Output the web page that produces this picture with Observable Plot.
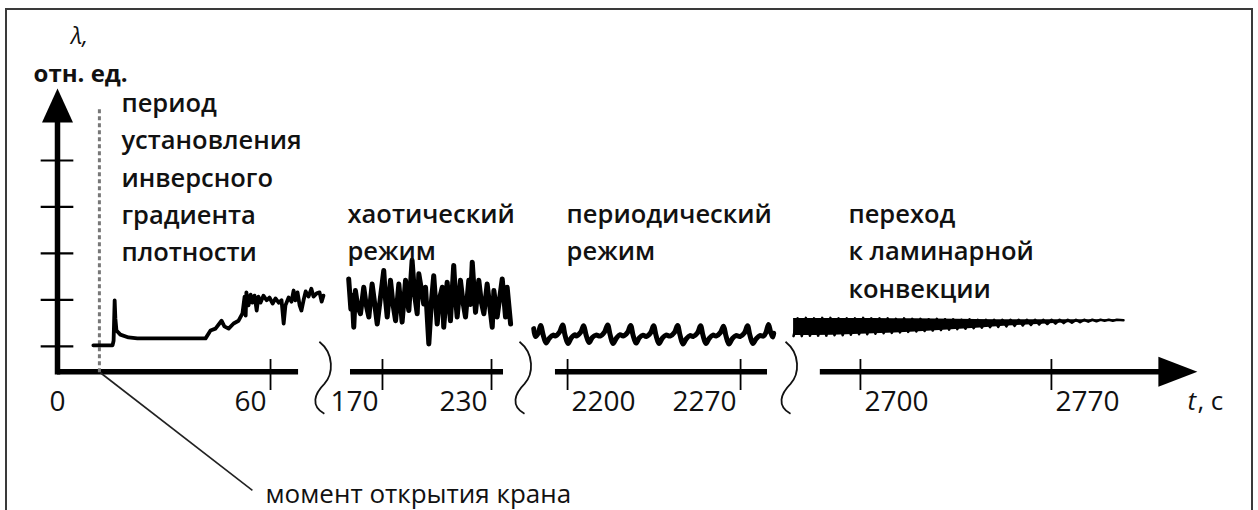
<!DOCTYPE html>
<html><head><meta charset="utf-8">
<script src="https://cdn.jsdelivr.net/npm/d3@7"></script>
<script src="https://cdn.jsdelivr.net/npm/@observablehq/plot@0.6"></script>
<style>
html,body{margin:0;padding:0;background:#fff;}
#wrap{position:relative;width:1258px;height:510px;overflow:hidden;}
#frame{position:absolute;left:5px;top:8px;width:1244px;height:520px;border:2px solid #3a3a3a;pointer-events:none;}
</style></head><body><div id="wrap"><div id="frame"></div></div>
<script>
// ---- data (time t in s, λ in relative units) ----
const transient = [[10.1,1.02],[15.5,1.02],[15.8,1.12],[16.1,1.99],[16.3,1.60],[16.6,1.34],[17.7,1.25],[20.0,1.19],[22.5,1.17],[41.7,1.17],[43.1,1.34],[44.5,1.38],[46.2,1.55],[47.0,1.43],[48.2,1.38],[49.6,1.49],[51.0,1.55],[52.1,1.71],[52.7,2.07],[53.0,1.66],[53.2,2.16],[53.8,1.88],[54.4,2.11],[54.9,1.94],[55.5,2.09],[56.1,1.77],[56.6,2.07],[57.2,1.94],[58.0,2.09],[58.9,1.99],[59.7,2.05],[60.6,1.92],[61.4,2.03],[62.3,1.94],[63.1,1.99],[63.7,1.49],[64.2,1.88],[65.1,2.05],[65.9,1.96],[66.5,2.20],[67.0,1.99],[67.6,2.16],[68.2,1.88],[68.7,1.77],[69.3,1.99],[69.9,2.18],[70.7,2.07],[71.5,2.24],[72.1,2.07],[73.0,2.14],[73.8,2.16],[74.4,1.96],[74.9,2.09]];
const chaotic = [[151.4,2.45],[152.6,1.80],[153.3,2.10],[154.2,1.41],[155.1,2.20],[156.4,1.85],[157.9,1.70],[159.7,2.27],[161.0,1.90],[162.5,1.63],[164.3,2.34],[165.6,1.95],[167.1,1.48],[170.7,2.63],[171.7,2.00],[172.6,1.63],[174.4,2.42],[175.8,1.90],[177.2,1.55],[179.0,2.34],[180.8,1.52],[182.7,2.42],[183.6,2.00],[184.5,1.77],[186.3,2.85],[187.7,2.10],[189.1,1.70],[190.0,2.56],[192.7,1.91],[193.7,2.27],[195.5,1.05],[196.9,1.95],[198.2,2.52],[200.1,1.48],[201.5,2.05],[202.9,2.27],[203.7,1.41],[205.6,2.38],[207.4,1.55],[209.2,2.74],[210.2,2.05],[211.1,1.63],[212.9,2.42],[214.3,1.95],[215.7,1.63],[217.5,2.42],[218.4,1.90],[219.4,2.81],[221.2,1.73],[223.0,2.42],[224.4,1.95],[225.8,1.70],[227.6,2.34],[230.4,1.41],[231.3,2.20],[233.1,1.63],[235.9,2.45],[237.7,1.63],[238.6,2.27],[240.5,1.48]];
const periodic = [[2186.3,1.38],[2187.0,1.21],[2188.2,1.29],[2189.1,1.45],[2190.1,1.25],[2191.3,1.07],[2192.6,1.17],[2194.1,1.24],
[2195.0,1.22],[2196.8,1.31],[2198.0,1.46],[2199.0,1.23],[2200.2,1.06],[2201.5,1.18],[2203.0,1.25],
[2203.5,1.22],[2205.3,1.30],[2206.5,1.44],[2207.5,1.24],[2208.7,1.08],[2210.0,1.19],[2211.5,1.24],[2213.2,1.22],
[2215.0,1.31],[2216.2,1.46],[2217.2,1.25],[2218.4,1.06],[2219.7,1.17],[2221.2,1.25],[2222.5,1.22],
[2224.3,1.30],[2225.5,1.45],[2226.5,1.24],[2227.7,1.07],[2229.0,1.18],[2230.5,1.24],[2231.8,1.21],
[2233.6,1.29],[2234.8,1.44],[2235.8,1.23],[2237.0,1.06],[2238.3,1.17],[2239.8,1.24],[2241.5,1.22],
[2243.3,1.30],[2244.5,1.45],[2245.5,1.24],[2246.7,1.05],[2248.0,1.16],[2249.5,1.23],[2250.8,1.21],
[2252.6,1.29],[2253.8,1.44],[2254.8,1.23],[2256.0,1.06],[2257.3,1.17],[2258.8,1.24],[2260.1,1.22],
[2261.9,1.30],[2263.1,1.43],[2264.1,1.22],[2265.3,1.05],[2266.6,1.16],[2268.1,1.23],[2269.8,1.21],
[2271.6,1.29],[2272.8,1.44],[2273.8,1.23],[2275.0,1.06],[2276.3,1.16],[2277.8,1.23],[2279.3,1.22],
[2280.3,1.30],[2281.3,1.47],[2282.2,1.30],[2283.0,1.20],[2283.4,1.28]];
const laminar = [[2675.5,1.22],[2677,1.60],[2678.5,1.22],[2680,1.61],[2681.5,1.23],[2683,1.60],[2684.5,1.23],[2686,1.61],[2687.5,1.23],[2689,1.61],[2690.5,1.24],[2692,1.60],[2693.5,1.24],[2695,1.60],[2696.5,1.25],[2698,1.60],[2699.5,1.26],[2701,1.61],[2702.5,1.26],[2704,1.60],[2705.5,1.27],[2707,1.60],[2708.5,1.28],[2710,1.60],[2711.5,1.29],[2713,1.59],[2714.5,1.30],[2716,1.60],[2717.5,1.31],[2719,1.59],[2720.5,1.32],[2722,1.59],[2723.5,1.33],[2725,1.58],[2726.5,1.34],[2728,1.59],[2729.5,1.35],[2731,1.58],[2732.5,1.36],[2734,1.58],[2735.5,1.37],[2737,1.57],[2738.5,1.38],[2740,1.58],[2741.5,1.39],[2743,1.57],[2744.5,1.40],[2746,1.57],[2747.5,1.41],[2749,1.57],[2750.5,1.42],[2752,1.57],[2753.5,1.43],[2755,1.57],[2756.5,1.44],[2758,1.57],[2759.5,1.45],[2761,1.57],[2762.5,1.46],[2764,1.57],[2765.5,1.47],[2767,1.57],[2768.5,1.48],[2770,1.57],[2771.5,1.49],[2773,1.57],[2774.5,1.50],[2776,1.57],[2777.5,1.51],[2779,1.57],[2780.5,1.52],[2782,1.57],[2783.5,1.53],[2785,1.57],[2786.5,1.54],[2788,1.57],[2789.5,1.55],[2791,1.57],[2792.5,1.55],[2794,1.57],[2796.4,1.56]];
// envelope of the laminar-transition band (lower, upper)
const laminarBand = [[2675.5,1.23,1.60],[2690,1.24,1.60],[2705,1.27,1.60],[2720,1.31,1.59],[2735,1.36,1.58],[2750,1.42,1.57],[2765,1.47,1.57],[2780,1.52,1.57],[2796.4,1.55,1.57]];

const xTickValues = [60, 170, 230, 2200, 2270, 2700, 2770];
const labelsAfterTick = [2200, 2700, 2770];
const yTickValues = [1, 2, 3, 4, 5];
const axisPieces = [[0, 67.9], [152.4, 236.6], [2195.1, 2280.9], [2685.3, 2815]];
const breakTimes = [74.6, 247.05, 2289.4];
const tapOpenTime = 11.8;
const regimeLabels = ["период\nустановления\nинверсного\nградиента\nплотности", "хаотический\nрежим", "периодический\nрежим", "переход\nк ламинарной\nконвекции"];
const yLabel = ["λ,", "отн. ед."];
const xLabel = ["t", ", с"];
const calloutText = "момент открытия крана";

// ---- drawing ----
const FONT = "Open Sans, DejaVu Sans, sans-serif";
const AXIS_Y = 0.45;
const arrowUp = {draw(c){c.moveTo(0,0);c.lineTo(15.5,34);c.lineTo(-15.5,34);c.closePath();}};
const arrowRight = {draw(c){c.moveTo(0,0);c.lineTo(-39,-15);c.lineTo(-39,15);c.closePath();}};
const wave = {draw(c){c.moveTo(-3,-30);c.bezierCurveTo(12,-18,11,2,2,12);c.bezierCurveTo(-8,22,-12,34,2,42);}};

const labelStyle = {fontFamily: FONT, fontSize: 25.5, fontWeight: 600, textAnchor: "start", lineAnchor: "top", lineHeight: 1.46, fill: "#111"};
const numStyle = {fontFamily: FONT, fontSize: 28, fontWeight: 400, fill: "#111", y: -0.19};

const chart = Plot.plot({
  width: 1258, height: 510,
  marginLeft: 0, marginRight: 0, marginTop: 0, marginBottom: 0,
  x: {type: "linear", domain: [0, 78.3, 146.9, 249.8, 2185.0, 2290.2, 2675.1, 2839.3], range: [57, 335, 340, 527, 530, 790, 792, 1240], axis: null},
  y: {type: "linear", domain: [0.5, 6.55], range: [369, 88], axis: null},
  style: {background: "transparent", overflow: "visible"},
  marks: [
    // y axis
    Plot.ruleX([0], {y1: 0.38, y2: 6.0, strokeWidth: 5.5, stroke: "#000"}),
    Plot.ruleY(yTickValues, {x1: -4.6, x2: 4.6, strokeWidth: 2.2, stroke: "#000"}),
    Plot.dot([[0, 6.55]], {x: "0", y: "1", symbol: arrowUp, fill: "#000", stroke: "none"}),
    // broken time axis
    Plot.ruleY(axisPieces, {x1: "0", x2: "1", y: AXIS_Y, strokeWidth: 5.5, stroke: "#000"}),
    Plot.dot([[2823.5, AXIS_Y]], {x: "0", y: "1", symbol: arrowRight, fill: "#000", stroke: "none"}),
    Plot.ruleX(xTickValues, {y1: 0.715, y2: 0.048, strokeWidth: 1.8, stroke: "#000"}),
    Plot.dot(breakTimes, {x: d => d, y: AXIS_Y, symbol: wave, fill: "none", stroke: "#111", strokeWidth: 1.8}),
    Plot.text([0], {x: d => d, text: d => String(d), textAnchor: "middle", ...numStyle}),
    Plot.text(xTickValues.filter(d => !labelsAfterTick.includes(d)), {x: d => d, text: d => String(d), textAnchor: "end", dx: -4, ...numStyle}),
    Plot.text(labelsAfterTick, {x: d => d, text: d => String(d), textAnchor: "start", dx: 4, ...numStyle}),
    // tap opening moment
    Plot.ruleX([tapOpenTime], {y1: 0.43, y2: 6.14, stroke: "#777", strokeWidth: 3, strokeDasharray: "4,3"}),
    Plot.link([tapOpenTime], {x1: d => d + 0.3, y1: 0.43, x2: 54.9, y2: -2.1, stroke: "#222", strokeWidth: 1.6}),
    Plot.text([calloutText], {x: 58.6, y: -2.2, text: d => d, textAnchor: "start", fontFamily: FONT, fontSize: 26, fill: "#111"}),
    // signals
    Plot.line(transient, {x: "0", y: "1", stroke: "#000", strokeWidth: 3.8, strokeLinejoin: "round"}),
    Plot.line(chaotic, {x: "0", y: "1", stroke: "#000", strokeWidth: 5, strokeLinejoin: "round"}),
    Plot.line(periodic, {x: "0", y: "1", stroke: "#000", strokeWidth: 5, strokeLinejoin: "round", curve: "catmull-rom"}),
    Plot.areaY(laminarBand, {x: "0", y1: "1", y2: "2", fill: "#000", curve: "monotone-x"}),
    Plot.line(laminar, {x: "0", y: "1", stroke: "#000", strokeWidth: 2.6, strokeLinejoin: "round"}),
    // labels
    Plot.text([regimeLabels[0]], {x: 18.0, y: 6.61, text: d => d, ...labelStyle}),
    Plot.text([regimeLabels[1]], {x: 150.75, y: 4.22, text: d => d, ...labelStyle}),
    Plot.text([regimeLabels[2]], {x: 2199.6, y: 4.22, text: d => d, ...labelStyle}),
    Plot.text([regimeLabels[3]], {x: 2695.6, y: 4.22, text: d => d, ...labelStyle}),
    Plot.text([yLabel[0]], {x: 6.2, y: 7.67, text: d => d, fontFamily: FONT, fontSize: 23, fontStyle: "italic", textAnchor: "middle", fill: "#111"}),
    Plot.text([yLabel[1]], {x: 6.5, y: 6.85, text: d => d, fontFamily: FONT, fontSize: 24, fontWeight: 700, textAnchor: "middle", fill: "#111"}),
    Plot.text([xLabel[0]], {x: 2819.9, y: -0.19, text: d => d, fontFamily: FONT, fontSize: 26, fontStyle: "italic", textAnchor: "start", fill: "#111"}),
    Plot.text([xLabel[1]], {x: 2823.5, y: -0.19, text: d => d, fontFamily: FONT, fontSize: 26, textAnchor: "start", fill: "#111"})
  ]
});
document.getElementById("wrap").prepend(chart);
</script>
</body></html>
